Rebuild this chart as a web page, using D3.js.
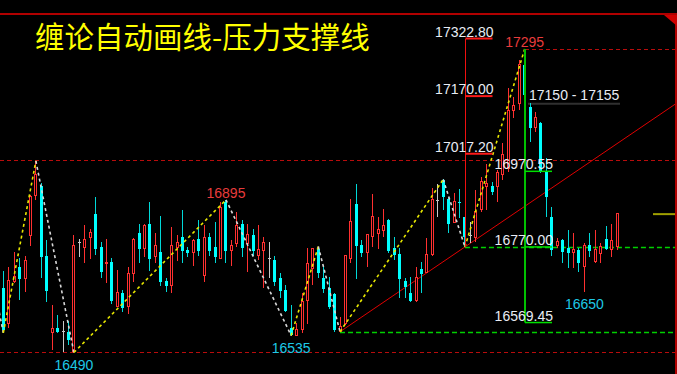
<!DOCTYPE html>
<html><head><meta charset="utf-8">
<script src="https://cdn.jsdelivr.net/npm/d3@7/dist/d3.min.js"></script>
<style>html,body{margin:0;padding:0;background:#000;overflow:hidden}</style>
</head><body>
<script>
// ---- data ----
const opens  = [16660,16567,16678,16716,16687,16800,16906,16932,16747,16542,16554,16547,16545,16492,16782,16768,16794,16857,16771,16725,16731,16613,16647,16613,16700,16806,16766,16831,16744,16756,16680,16667,16768,16796,16762,16756,16790,16695,16796,16771,16740,16890,16760,16780,16831,16780,16802,16746,16760,16740,16735,16687,16656,16554,16536,16550,16627,16713,16764,16687,16660,16645,16545,16567,16740,16883,16775,16755,16799,16806,16813,16841,16766,16751,16680,16648,16627,16711,16702,16749,16895,16948,16896,16834,16890,16850,16802,16796,16868,16929,16932,16930,16961,16979,17131,17151,17253,17142,17087,17098,16970,16849,16775,16788,16767,16755,16762,16719,16775,16731,16753,16790,16762,16771];
const highs  = [16706,16718,16757,16740,16747,16908,16998,16939,16788,16616,16589,16574,16573,16802,16790,16828,16817,16903,16782,16791,16741,16709,16656,16716,16793,16831,16831,16888,16808,16852,16687,16822,16802,16868,16771,16790,16841,16828,16808,16837,16890,16895,16788,16863,16841,16831,16817,16828,16796,16782,16746,16700,16669,16616,16567,16649,16768,16768,16771,16719,16691,16647,16585,16749,16896,16937,16788,16802,16910,16849,16870,16843,16796,16767,16688,16691,16717,16731,16794,16926,16937,16949,16902,16914,16924,16850,16837,16921,16956,16990,16943,16974,17045,17191,17168,17266,17295,17151,17129,17102,17006,16877,16793,16790,16815,16806,16766,16780,16806,16815,16781,16826,16831,16861];
const lows   = [16542,16554,16674,16629,16651,16773,16895,16687,16625,16497,16542,16492,16510,16490,16744,16728,16738,16749,16687,16674,16619,16611,16598,16592,16678,16728,16744,16707,16727,16666,16651,16647,16733,16728,16744,16719,16746,16678,16746,16728,16737,16728,16719,16769,16744,16704,16746,16735,16660,16687,16666,16634,16597,16535,16537,16542,16566,16669,16687,16649,16605,16545,16545,16563,16727,16684,16744,16718,16771,16764,16796,16755,16735,16634,16634,16625,16625,16647,16702,16746,16850,16868,16807,16834,16847,16770,16780,16784,16863,16868,16908,16890,16948,16969,17111,17133,17168,17049,17076,16966,16850,16746,16766,16727,16713,16713,16704,16650,16744,16727,16727,16762,16744,16762];
const closes = [16550,16682,16691,16685,16735,16903,16961,16744,16653,16554,16545,16547,16523,16775,16782,16790,16808,16764,16704,16729,16627,16649,16607,16700,16790,16764,16828,16738,16775,16678,16666,16773,16781,16759,16753,16786,16759,16796,16760,16744,16875,16760,16775,16828,16766,16802,16760,16762,16781,16740,16678,16654,16601,16536,16550,16625,16727,16766,16700,16658,16611,16550,16558,16746,16837,16773,16753,16802,16850,16817,16828,16759,16749,16685,16664,16627,16688,16698,16749,16897,16895,16903,16831,16890,16886,16796,16802,16865,16943,16939,16917,16968,17014,17133,17144,17253,17173,17085,17114,16970,16903,16762,16784,16757,16755,16762,16728,16775,16760,16762,16771,16764,16786,16859];

// zigzag strokes (candle index, price)
const zigIdx   = [-2, 0, 6, 13, 41, 53, 58, 62, 81, 85, 96];
const zigPrice = [16690, 16542, 16998, 16490, 16895, 16535, 16771, 16545, 16949, 16770, 17295];

// labelled highs / lows
const labIdx   = [13, 41, 53, 96, 107];
const labPrice = [16490, 16895, 16535, 17295, 16650];
const labHigh  = [false, true, false, true, false];

// horizontal levels
const redDashFull = [16998, 16490];
const redDashFromPeak = {idx: 96, price: 17295};
const greenDash = [{idx: 85, price: 16770}, {idx: 62, price: 16545}];
const fibRed   = [17322.80, 17170.00, 17017.20];   // bracket at index 85
const fibGreen = [16970.55, 16770.00, 16569.45];   // bracket at index 96
const rangeLab = [17150, 17155];
const markerPrice = 16857;
const title = "缠论自动画线-压力支撑线";

// ---- chart ----
const W = 677, H = 374;
const svg = d3.select("body").append("svg").attr("width", W).attr("height", H)
  .style("background", "#000");
const x = d3.scaleLinear().domain([0, opens.length - 1]).range([3.3, 617]);
const y = d3.scaleLinear().domain([16490, 17295]).range([352.5, 49]);

// frame
svg.append("line").attr("x1", 0).attr("x2", W).attr("y1", 14).attr("y2", 14)
  .attr("stroke", "#b00000").attr("stroke-width", 2);
svg.append("line").attr("x1", 676).attr("x2", 676).attr("y1", 14).attr("y2", H)
  .attr("stroke", "#b00000").attr("stroke-width", 2);
svg.append("polygon").attr("points", "664,15 677,15 677,26").attr("fill", "#d00000");

// title
svg.append("text").attr("x", 35).attr("y", 47.5).text(title)
  .attr("font-family", "'Noto Sans CJK SC', sans-serif").attr("font-size", 29.5)
  .attr("fill", "#ffff00");

// red dashed levels
const dashRed = "#b80c0c";
redDashFull.forEach(p => {
  svg.append("line").attr("x1", 0).attr("x2", 675).attr("y1", Math.round(y(p)) - 0.5).attr("y2", Math.round(y(p)) - 0.5)
    .attr("stroke", dashRed).attr("stroke-dasharray", "4 3").attr("shape-rendering", "crispEdges");
});
svg.append("line").attr("x1", x(redDashFromPeak.idx)).attr("x2", 675)
  .attr("y1", Math.round(y(redDashFromPeak.price)) + 0.5).attr("y2", Math.round(y(redDashFromPeak.price)) + 0.5)
  .attr("stroke", dashRed).attr("stroke-dasharray", "4 3").attr("shape-rendering", "crispEdges");

// green dashed levels
greenDash.forEach(d => {
  svg.append("line").attr("x1", x(d.idx)).attr("x2", 675)
    .attr("y1", Math.round(y(d.price)) + 0.5).attr("y2", Math.round(y(d.price)) + 0.5)
    .attr("stroke", "#00d000").attr("stroke-width", 1.5).attr("stroke-dasharray", "5 3");
});

// range line (17150)
svg.append("line").attr("x1", 528).attr("x2", 620).attr("y1", y(rangeLab[0])).attr("y2", y(rangeLab[0]))
  .attr("stroke", "#303030").attr("stroke-width", 2);

// trend line through two lows, extended right
const tA = [x(greenDash[1].idx), y(greenDash[1].price)], tB = [x(greenDash[0].idx), y(greenDash[0].price)];
const slope = (tB[1] - tA[1]) / (tB[0] - tA[0]);
svg.append("line").attr("x1", tA[0]).attr("y1", tA[1]).attr("x2", 675).attr("y2", tA[1] + slope * (675 - tA[0]))
  .attr("stroke", "#e00000").attr("stroke-width", 1);

// marker
svg.append("line").attr("x1", 653).attr("x2", 675).attr("y1", y(markerPrice)).attr("y2", y(markerPrice))
  .attr("stroke", "#a0a000").attr("stroke-width", 2);

// candles
const g = svg.append("g").attr("shape-rendering", "crispEdges");
opens.forEach((o, i) => {
  const c = closes[i], h = highs[i], l = lows[i];
  const cx = Math.floor(x(i));
  const col = c > o ? "#ff3030" : (c < o ? "#00ffff" : "#c8c8c8");
  g.append("rect").attr("x", cx).attr("width", 1).attr("y", y(h)).attr("height", Math.max(1, y(l) - y(h)))
    .attr("fill", c < o ? "#00d8d8" : col);
  const top = y(Math.max(o, c)), bot = y(Math.min(o, c));
  if (c > o) {
    g.append("rect").attr("x", cx - 0.5).attr("width", 2).attr("y", top).attr("height", Math.max(1, bot - top))
      .attr("fill", "#000").attr("stroke", col).attr("stroke-width", 1);
  } else if (c < o) {
    g.append("rect").attr("x", cx - 1).attr("width", 3).attr("y", top).attr("height", Math.max(1, bot - top))
      .attr("fill", col);
  } else {
    g.append("rect").attr("x", cx - 1).attr("width", 3).attr("y", top).attr("height", 1).attr("fill", col);
  }
});

// zigzag strokes
for (let k = 0; k < zigIdx.length - 1; k++) {
  const up = zigPrice[k + 1] > zigPrice[k];
  svg.append("line").attr("x1", x(zigIdx[k])).attr("y1", y(zigPrice[k]))
    .attr("x2", x(zigIdx[k + 1])).attr("y2", y(zigPrice[k + 1]))
    .attr("stroke", up ? "#e6e600" : "#d8d8d8").attr("stroke-width", 1.6).attr("stroke-dasharray", "3 3");
}

// red fib bracket
const rx = Math.round(x(greenDash[0].idx)) + 0.5;
svg.append("line").attr("x1", rx).attr("x2", rx).attr("y1", y(fibRed[0])).attr("y2", y(greenDash[0].price))
  .attr("stroke", "#f01010").attr("stroke-width", 1).attr("shape-rendering", "crispEdges");
fibRed.forEach(p => {
  svg.append("line").attr("x1", rx).attr("x2", rx + 27).attr("y1", y(p)).attr("y2", y(p))
    .attr("stroke", "#ff1a1a").attr("stroke-width", 2);
  svg.append("text").attr("x", rx + 28).attr("y", y(p) - 2).attr("text-anchor", "end")
    .text(p.toFixed(2)).attr("font-family", "'Liberation Sans', Arial, sans-serif")
    .attr("font-size", 14).attr("fill", "#e8ecf4");
});

// green fib bracket
const gx = Math.round(x(redDashFromPeak.idx));
svg.append("line").attr("x1", gx).attr("x2", gx).attr("y1", y(redDashFromPeak.price)).attr("y2", y(fibGreen[2]))
  .attr("stroke", "#00c000").attr("stroke-width", 2);
fibGreen.forEach(p => {
  svg.append("line").attr("x1", gx).attr("x2", gx + 27).attr("y1", y(p)).attr("y2", y(p))
    .attr("stroke", "#00e000").attr("stroke-width", 1.5);
  svg.append("text").attr("x", gx + 28).attr("y", y(p) - 2).attr("text-anchor", "end")
    .text(p.toFixed(2)).attr("font-family", "'Liberation Sans', Arial, sans-serif")
    .attr("font-size", 14).attr("fill", "#e8ecf4");
});

// range label
svg.append("text").attr("x", 529).attr("y", y(rangeLab[0]) - 3.5)
  .text(rangeLab[0] + " - " + rangeLab[1]).attr("font-family", "'Liberation Sans', Arial, sans-serif")
  .attr("font-size", 14).attr("fill", "#e8ecf4");

// pivot labels
labIdx.forEach((i, k) => {
  svg.append("text").attr("x", x(i)).attr("y", labHigh[k] ? y(labPrice[k]) - 2 : y(labPrice[k]) + 17)
    .attr("text-anchor", "middle").text(labPrice[k])
    .attr("font-family", "'Liberation Sans', Arial, sans-serif").attr("font-size", 14)
    .attr("fill", labHigh[k] ? "#e83c3c" : "#1ec8e6");
});
</script>
</body></html>
